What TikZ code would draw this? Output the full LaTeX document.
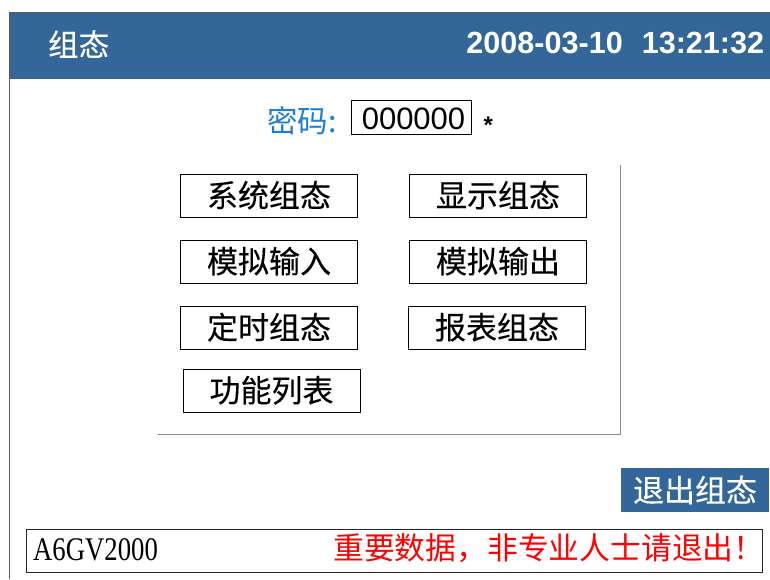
\documentclass[tikz,border=0pt]{standalone}
\usepackage{fontspec}
\setmainfont{Liberation Sans}
\newfontfamily\cjk[FakeBold=0.25]{Noto Sans CJK SC}
\newfontfamily\cjklight{Noto Sans CJK SC}
\newfontfamily\mono[FakeStretch=0.81]{Liberation Serif}
\definecolor{hdr}{HTML}{336699}
\definecolor{pw}{HTML}{1E7FD8}
\tikzset{
  btn/.style={draw=black,line width=0.9pt,fill=white,minimum width=177pt,minimum height=43.5pt,inner sep=0pt,text depth=4pt,text height=26pt,font=\cjk\fontsize{31}{31}\selectfont,text=black},
  lbl/.style={inner sep=0pt,anchor=base west},
}
\begin{document}
\begin{tikzpicture}[x=1pt,y=-1pt]
\useasboundingbox (0,0) rectangle (770,579);
\fill[white] (0,0) rectangle (770,579);
\draw[draw=black!65,line width=1.5pt] (9.5,579) -- (9.5,12.5) -- (770,12.5);
\fill[hdr] (10,13) rectangle (770,79);
\node[lbl,text=white,font=\cjk\fontsize{30.5}{31}\selectfont] (title) at (48,56) {组态};
\node[inner sep=0pt,anchor=base east,text=white,font=\fontsize{30.6}{31}\selectfont\bfseries] (clock) at (764.5,53) {2008-03-10\hspace{19pt}13:21:32};
\node[lbl,text=pw,font=\cjklight\fontsize{30.5}{31}\selectfont] (pwl) at (267,132) {密码:};
\node[draw=black,line width=0.9pt,minimum width=120pt,minimum height=34pt,inner sep=0pt] (pwv) at (411,117.5) {};
\node[inner sep=0pt,anchor=base,font=\fontsize{31}{31}\selectfont] (pwt) at (413.5,129.5) {000000};
\node[lbl,font=\fontsize{24}{24}\selectfont\bfseries] (star) at (483.5,133) {*};
\draw[draw=black!45,line width=1.3pt] (620.5,165) -- (620.5,434.5) -- (158,434.5);
\node[btn] (b1) at (269,196) {系统组态};
\node[btn] (b2) at (498,196) {显示组态};
\node[btn] (b3) at (269,262) {模拟输入};
\node[btn] (b4) at (498,262) {模拟输出};
\node[btn] (b5) at (269,328) {定时组态};
\node[btn] (b6) at (497,328) {报表组态};
\node[btn] (b7) at (271.5,391) {功能列表};
\node[fill=hdr,minimum width=148pt,minimum height=44pt,inner sep=0pt,text=white,font=\cjk\fontsize{31}{32}\selectfont] (quit) at (695,490) {退出组态};
\node[draw=black!85,line width=1pt,fill=white,minimum width=736pt,minimum height=43pt,inner sep=0pt] (bar) at (394,551) {};
\node[lbl,font=\mono\fontsize{33}{33}\selectfont] (model) at (33,560) {A6GV2000};
\node[lbl,text=red,font=\cjklight\fontsize{30.8}{31}\selectfont] (warn) at (333,559) {重要数据，非专业人士请退出！};
\end{tikzpicture}
\end{document}
